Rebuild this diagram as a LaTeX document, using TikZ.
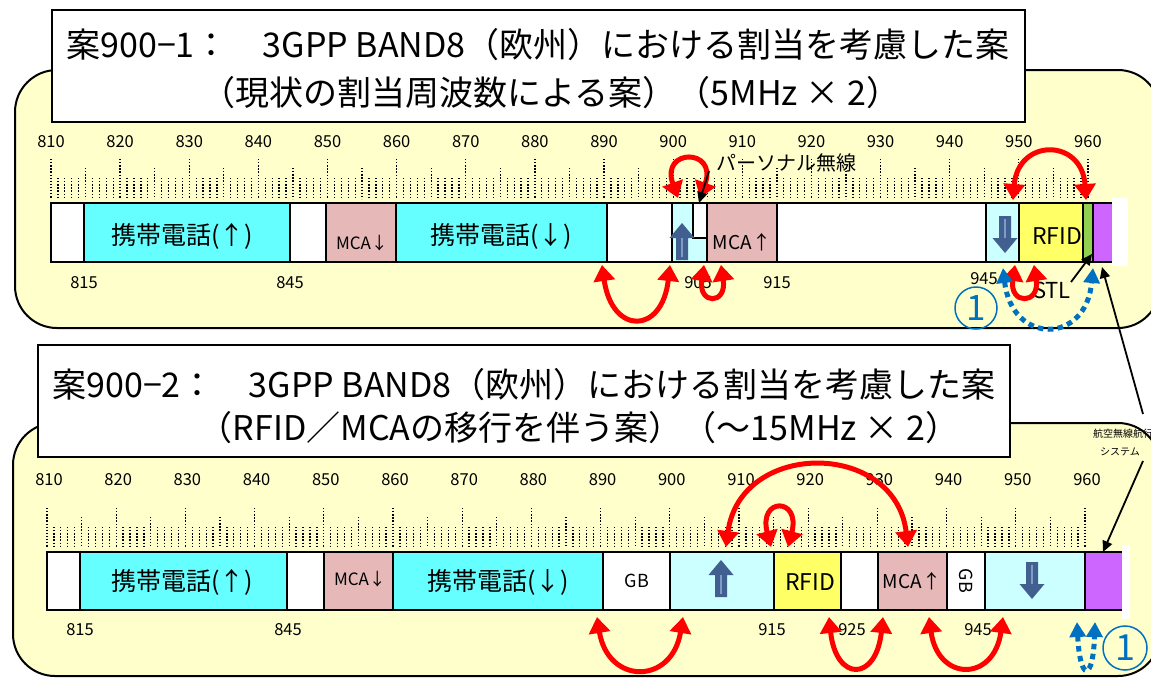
\documentclass[tikz,border=0pt]{standalone}
\usepackage{fontspec}
\setmainfont{Noto Sans CJK JP}
\usetikzlibrary{arrows.meta}
\definecolor{panel}{HTML}{FFFFCC}
\definecolor{cyanb}{HTML}{66FFFF}
\definecolor{lcyan}{HTML}{CCFFFF}
\definecolor{pinkb}{HTML}{E6B9B8}
\definecolor{yelb}{HTML}{FFFF66}
\definecolor{greenb}{HTML}{92D050}
\definecolor{purb}{HTML}{CC66FF}
\definecolor{bluearc}{HTML}{0070C0}
\definecolor{blockblue}{HTML}{41608F}
\definecolor{blocklight}{HTML}{7F9CC8}
\newcommand\fsz[1]{\fontsize{#1}{#1}\selectfont}
\begin{document}
\begin{tikzpicture}[x=1pt,y=-1pt,
  panelbox/.style={draw=black,line width=2pt,fill=panel,rounded corners=42pt},
  titlebox/.style={draw=black,line width=2pt,fill=white},
  seg/.style={draw=black,line width=1.6pt},
  tickline/.style={line width=1.3pt,dash pattern=on 1.3pt off 1.8pt},
  numlab/.style={font=\fsz{16.5},inner sep=0pt},
  titletext/.style={font=\fsz{34},inner sep=0pt},
  bandlab/.style={font=\fsz{25},inner sep=0pt},
  redarc/.style={draw=red,line width=5pt,{Triangle[width=21pt,length=16pt]}-{Triangle[width=21pt,length=16pt]}},
  bluedot/.style={draw=bluearc,line width=5pt,dash pattern=on 5.5pt off 4.5pt,{Triangle[width=16pt,length=15pt]}-{Triangle[width=16pt,length=15pt]}},
  blk/.style={draw=black,line width=1.8pt,-{Triangle[width=10pt,length=11pt]}},
  blkarrow/.pic={
    \fill[blockblue] (-6,18) -- (-6,-4) -- (-12.5,-4) -- (0,-19) -- (12.5,-4) -- (6,-4) -- (6,18) -- cycle;
    \draw[blocklight,line width=1.3pt] (0,15) -- (0,-4);
  }
]
\useasboundingbox (0,0) rectangle (1151,678);

% ================= TOP PANEL =================
\draw[panelbox] (15,70) rectangle (1160,328);
\draw[titlebox] (52,10) rectangle (1025,122);
\node[titletext] (t1a) at (538,45) {案900−1：　3GPP BAND8（欧州）における割当を考慮した案};
\node[titletext] (t1b) at (551,93) {（現状の割当周波数による案）（5MHz × 2）};

% ticks
\foreach \i in {0,...,150}{
  \pgfmathtruncatemacro\m{mod(\i,10)}
  \pgfmathtruncatemacro\h{mod(\i,5)}
  \ifnum\m=0 \def\yt{159}\else\ifnum\h=0 \def\yt{168}\else\def\yt{178}\fi\fi
  \draw[tickline] ({51+\i*6.913},\yt) -- ({51+\i*6.913},199);
}
\foreach \f [count=\k from 0] in {810,820,...,960}
  \node[numlab] (ta\f) at ({51+\k*69.13},142) {\f};

% band bar
\draw[seg,fill=white]  (51,203) rectangle (84,262);
\draw[seg,fill=cyanb]  (84,203) rectangle (290,262);
\draw[seg,fill=white]  (290,203) rectangle (326,262);
\draw[seg,fill=pinkb]  (326,203) rectangle (396,262);
\draw[seg,fill=cyanb]  (396,203) rectangle (607,262);
\draw[seg,fill=white]  (607,203) rectangle (672,262);
\draw[seg,fill=lcyan]  (672,203) rectangle (707,262);
\draw[seg,fill=white]  (693,203) rectangle (707,238);
\draw[seg,fill=pinkb]  (707,203) rectangle (777,262);
\draw[seg,fill=white]  (777,203) rectangle (986,262);
\draw[seg,fill=lcyan]  (986,203) rectangle (1019,262);
\draw[seg,fill=yelb]   (1019,203) rectangle (1083,262);
\draw[seg,fill=greenb] (1083,203) rectangle (1093,262);
\draw[seg,fill=purb]   (1093,203) rectangle (1116,262);
\fill[white] (1112,198) rectangle (1128,266);

\node[bandlab] (a1) at (182,236) {携帯電話(↑)};
\node[font=\fsz{17},inner sep=0pt] (a2) at (362,243) {MCA↓};
\node[bandlab] (a3) at (501,236) {携帯電話(↓)};
\node[font=\fsz{19},inner sep=0pt] (a4) at (742,242) {MCA↑};
\node[font=\fsz{23},inner sep=0pt] (a5) at (1057,236) {RFID};
\pic at (682,242) {blkarrow};
\pic[rotate=180] at (1005,234) {blkarrow};

\node[numlab] (tb815) at (84,283) {815};
\node[numlab] (tb845) at (290,283) {845};
\node[numlab] (tb905) at (698,283) {905};
\node[numlab] (tb915) at (777,283) {915};
\node[numlab] (tb945) at (984,279) {945};
\node[font=\fsz{22},inner sep=0pt] (stl) at (1052,290) {STL};
\node[font=\fsz{20},inner sep=0pt,anchor=west] (pers) at (716,163) {パーソナル無線};

% red arcs top
\coordinate (r1a) at (678,198); \coordinate (r1b) at (700,198);
\coordinate (r2a) at (602,265); \coordinate (r2b) at (670,265);
\coordinate (r3a) at (704,265); \coordinate (r3b) at (721,265);
\coordinate (r4a) at (1013,200); \coordinate (r4b) at (1086,200);
\coordinate (r5a) at (1015,265); \coordinate (r5b) at (1034,265);
\coordinate (b1a) at (1003,268); \coordinate (b1b) at (1093,268);
\draw[redarc] (r1a) .. controls (660,148) and (718,148) .. (r1b);
\draw[redarc] (r2a) .. controls (612,335) and (662,335) .. (r2b);
\draw[redarc] (r3a) .. controls (698,305) and (727,305) .. (r3b);
\draw[redarc] (r4a) .. controls (1018,138) and (1082,138) .. (r4b);
\draw[redarc] (r5a) .. controls (1009,305) and (1040,305) .. (r5b);
\draw[bluedot] (b1a) .. controls (1012,345) and (1086,345) .. (b1b);
\node[circle,draw=bluearc,line width=1.5pt,minimum size=42pt,inner sep=0pt,text=bluearc,font=\fsz{35}] (c1) at (976,308) {1};

% black pointers top
\coordinate (k1s) at (709,171); \coordinate (k1e) at (699,203);
\draw[blk] (k1s) -- (k1e);
\coordinate (k2s) at (1071,282); \coordinate (k2e) at (1092,254);
\draw[blk] (k2s) -- (k2e);

% ================= BOTTOM PANEL =================
\draw[panelbox] (13,423) rectangle (1160,676);
\draw[titlebox] (38,345) rectangle (1010,457);
\node[titletext] (t2a) at (524,385) {案900−2：　3GPP BAND8（欧州）における割当を考慮した案};
\node[titletext] (t2b) at (579,428) {（RFID／MCAの移行を伴う案）（〜15MHz × 2）};

\foreach \i in {0,...,150}{
  \pgfmathtruncatemacro\m{mod(\i,10)}
  \pgfmathtruncatemacro\h{mod(\i,5)}
  \ifnum\m=0 \def\yt{508}\else\ifnum\h=0 \def\yt{517}\else\def\yt{527}\fi\fi
  \draw[tickline] ({47+\i*6.92},\yt) -- ({47+\i*6.92},547);
}
\foreach \f [count=\k from 0] in {810,820,...,960}
  \node[numlab] (ba\f) at ({49+\k*69.2},480) {\f};

\draw[seg,fill=white] (47,552) rectangle (80,610);
\draw[seg,fill=cyanb] (80,552) rectangle (287,610);
\draw[seg,fill=white] (287,552) rectangle (324,610);
\draw[seg,fill=pinkb] (324,552) rectangle (393,610);
\draw[seg,fill=cyanb] (393,552) rectangle (603,610);
\draw[seg,fill=white] (603,552) rectangle (670,610);
\draw[seg,fill=lcyan] (670,552) rectangle (774,610);
\draw[seg,fill=yelb]  (774,552) rectangle (841,610);
\draw[seg,fill=white] (841,552) rectangle (878,610);
\draw[seg,fill=pinkb] (878,552) rectangle (947,610);
\draw[seg,fill=white] (947,552) rectangle (985,610);
\draw[seg,fill=lcyan] (985,552) rectangle (1085,610);
\draw[seg,fill=purb]  (1085,552) rectangle (1126,610);
\fill[white] (1122,545) rectangle (1130,619);

\node[bandlab] (d1) at (182,582) {携帯電話(↑)};
\node[font=\fsz{17},inner sep=0pt] (d2) at (360,579) {MCA↓};
\node[bandlab] (d3) at (498,582) {携帯電話(↓)};
\node[font=\fsz{18},inner sep=0pt] (d4) at (637,581) {GB};
\node[font=\fsz{23},inner sep=0pt] (d5) at (810,582) {RFID};
\node[font=\fsz{19},inner sep=0pt] (d6) at (912,581) {MCA↑};
\node[font=\fsz{18},inner sep=0pt,rotate=-90] (d7) at (966,581) {GB};
\pic at (721,579) {blkarrow};
\pic[rotate=180] at (1032,580) {blkarrow};

\node[numlab] (bb815) at (80,630) {815};
\node[numlab] (bb845) at (288,630) {845};
\node[numlab] (bb915) at (772,630) {915};
\node[numlab] (bb925) at (852,630) {925};
\node[numlab] (bb945) at (978,630) {945};

\coordinate (r6a) at (726,547); \coordinate (r6b) at (908,547);
\coordinate (r7a) at (771,547); \coordinate (r7b) at (788,547);
\coordinate (r8a) at (597,617); \coordinate (r8b) at (683,617);
\coordinate (r9a) at (829,617); \coordinate (r9b) at (883,617);
\coordinate (r10a) at (929,617); \coordinate (r10b) at (1003,617);
\coordinate (b2a) at (1077,622); \coordinate (b2b) at (1095,622);
\draw[redarc] (r6a) .. controls (740,440) and (895,440) .. (r6b);
\draw[redarc] (r7a) .. controls (758,497) and (801,497) .. (r7b);
\draw[redarc] (r8a) .. controls (608,685) and (672,685) .. (r8b);
\draw[redarc] (r9a) .. controls (836,682) and (876,682) .. (r9b);
\draw[redarc] (r10a) .. controls (938,682) and (994,682) .. (r10b);
\draw[bluedot] (b2a) .. controls (1080,682) and (1093,682) .. (b2b);
\node[circle,draw=bluearc,line width=1.5pt,minimum size=44pt,inner sep=0pt,text=bluearc,font=\fsz{36}] (c2) at (1125,648) {1};

% aeronautical label and pointers
\node[font=\fsz{10},inner sep=0pt] (aer1) at (1123,434) {航空無線航行};
\node[font=\fsz{10},inner sep=0pt] (aer2) at (1120,452) {システム};
\coordinate (k3s) at (1143,414); \coordinate (k3e) at (1102,267);
\draw[blk] (k3s) -- (k3e);
\coordinate (k4s) at (1143,461); \coordinate (k4e) at (1103,552);
\draw[blk] (k4s) -- (k4e);
\end{tikzpicture}
\end{document}
